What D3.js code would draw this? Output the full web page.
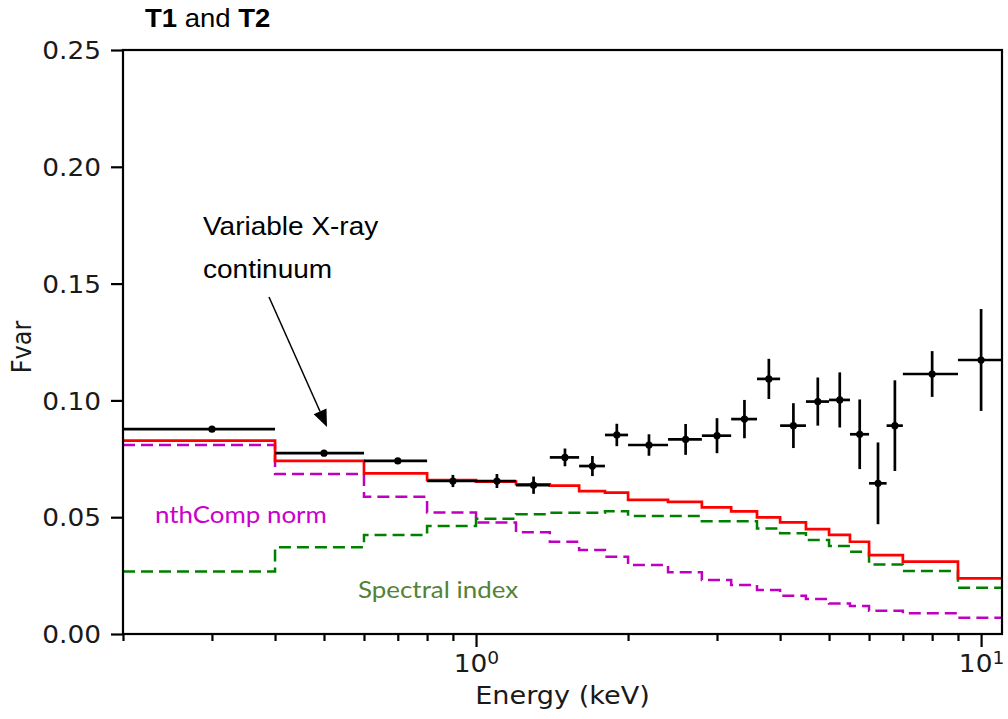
<!DOCTYPE html>
<html>
<head>
<meta charset="utf-8">
<script src="https://cdn.jsdelivr.net/npm/d3@7"></script>
<style>
  html, body { margin: 0; padding: 0; background: #ffffff; }
  svg { display: block; }
</style>
</head>
<body>
<svg id="chart" width="1008" height="719"></svg>
<script>
// Energy bins (keV): lower and upper edges
const binLo = [0.2, 0.4, 0.6, 0.8, 1.0, 1.2, 1.4, 1.6, 1.8, 2.0, 2.4, 2.8, 3.2, 3.6, 4.0, 4.5, 5.0, 5.5, 6.0, 6.5, 7.0, 9.0];
const binHi = [0.4, 0.6, 0.8, 1.0, 1.2, 1.4, 1.6, 1.8, 2.0, 2.4, 2.8, 3.2, 3.6, 4.0, 4.5, 5.0, 5.5, 6.0, 6.5, 7.0, 9.0, 11.0];

// Observed fractional variability and 1-sigma errors
const fvarObs = [0.0877, 0.0774, 0.0741, 0.0655, 0.0655, 0.0637, 0.0756, 0.0719, 0.0852, 0.0809, 0.0833,
                 0.0849, 0.0920, 0.1092, 0.0892, 0.0995, 0.1002, 0.0855, 0.0645, 0.0892, 0.1113, 0.1173];
const fvarErr = [0.0008, 0.0008, 0.0010, 0.0026, 0.0030, 0.0037, 0.0038, 0.0043, 0.0048, 0.0046, 0.0066,
                 0.0075, 0.0082, 0.0086, 0.0096, 0.0103, 0.0118, 0.0149, 0.0175, 0.0194, 0.0098, 0.0218];

// Model Fvar: total variable continuum, spectral index only, nthComp normalisation only
const modelTotal = [0.0828, 0.0741, 0.0688, 0.0659, 0.0652, 0.0641, 0.0635, 0.0612, 0.0605, 0.0574, 0.0566,
                    0.0542, 0.0525, 0.0499, 0.0478, 0.0449, 0.0424, 0.0395, 0.0338, 0.0338, 0.0310, 0.0238];
const modelIndex = [0.0268, 0.0371, 0.0424, 0.0462, 0.0493, 0.0513, 0.0519, 0.0519, 0.0526, 0.0505, 0.0505,
                    0.0483, 0.0483, 0.0452, 0.0431, 0.0402, 0.0377, 0.0352, 0.0298, 0.0298, 0.0270, 0.0198];
const modelNorm  = [0.0809, 0.0685, 0.0588, 0.0520, 0.0477, 0.0436, 0.0395, 0.0360, 0.0331, 0.0295, 0.0264,
                    0.0231, 0.0210, 0.0188, 0.0164, 0.0150, 0.0131, 0.0120, 0.0100, 0.0100, 0.0089, 0.0070];

// Axis ticks
const xMajorTicks = [1, 10];
const xMinorTicks = [0.2, 0.3, 0.4, 0.5, 0.6, 0.7, 0.8, 0.9, 2, 3, 4, 5, 6, 7, 8, 9];
const yTicks = [0.00, 0.05, 0.10, 0.15, 0.20, 0.25];

const xDomain = [0.2, 11];
const yDomain = [0, 0.25];

const M = { left: 123, right: 1002, top: 50, bottom: 634 };
const SX = 1.1; // horizontal stretch applied to axis text

const svg = d3.select("#chart");
const x = d3.scaleLog().domain(xDomain).range([M.left, M.right]);
const y = d3.scaleLinear().domain(yDomain).range([M.bottom, M.top]);

const tickFont = "'DejaVu Sans', sans-serif";

// ---- step curves ----
function stepPoints(vals) {
  const pts = binLo.map((lo, i) => [lo, vals[i]]);
  pts.push([binHi[binHi.length - 1], vals[vals.length - 1]]);
  return pts;
}
const stepLine = d3.line().x(d => x(d[0])).y(d => y(d[1])).curve(d3.curveStepAfter);

svg.append("path").datum(stepPoints(modelIndex))
  .attr("d", stepLine).attr("fill", "none")
  .attr("stroke", "#008000").attr("stroke-width", 2.5).attr("stroke-dasharray", "12,6");
svg.append("path").datum(stepPoints(modelNorm))
  .attr("d", stepLine).attr("fill", "none")
  .attr("stroke", "#c000c0").attr("stroke-width", 2.5).attr("stroke-dasharray", "12,6");
svg.append("path").datum(stepPoints(modelTotal))
  .attr("d", stepLine).attr("fill", "none")
  .attr("stroke", "#ff0000").attr("stroke-width", 2.7);

// ---- observed points with error bars ----
const obs = fvarObs.map((v, i) => ({ lo: binLo[i], hi: binHi[i], e: (binLo[i] + binHi[i]) / 2, v, err: fvarErr[i] }));
const pg = svg.append("g").attr("stroke", "#000").attr("stroke-width", 2.7);
pg.selectAll("line.h").data(obs).join("line").attr("class", "h")
  .attr("x1", d => x(d.lo)).attr("x2", d => x(d.hi))
  .attr("y1", d => y(d.v)).attr("y2", d => y(d.v));
pg.selectAll("line.v").data(obs).join("line").attr("class", "v")
  .attr("x1", d => x(d.e)).attr("x2", d => x(d.e))
  .attr("y1", d => y(d.v - d.err)).attr("y2", d => y(d.v + d.err));
svg.append("g").selectAll("circle").data(obs).join("circle")
  .attr("cx", d => x(d.e)).attr("cy", d => y(d.v)).attr("r", 3.6).attr("fill", "#000");

// ---- axes frame ----
svg.append("rect")
  .attr("x", M.left).attr("y", M.top)
  .attr("width", M.right - M.left).attr("height", M.bottom - M.top)
  .attr("fill", "none").attr("stroke", "#000").attr("stroke-width", 2.2);

// y axis
const yAxis = d3.axisLeft(y).tickValues(yTicks).tickSize(12).tickPadding(0).tickFormat(d3.format(".2f"));
const gy = svg.append("g").attr("transform", `translate(${M.left},0)`).call(yAxis);
gy.select(".domain").remove();
gy.selectAll(".tick line").attr("stroke-width", 2.2);
gy.selectAll(".tick text").remove();
gy.selectAll(".tick").append("text")
  .attr("transform", `translate(-22,0) scale(${SX},1)`)
  .attr("text-anchor", "end").attr("dy", "0.36em")
  .attr("fill", "#1a1a1a")
  .style("font-family", tickFont).style("font-size", "24px")
  .text(d => d3.format(".2f")(d));

// x axis: minor ticks
const gxMinor = svg.append("g").attr("transform", `translate(0,${M.bottom})`)
  .call(d3.axisBottom(x).tickValues(xMinorTicks).tickSize(7).tickFormat(""));
gxMinor.select(".domain").remove();
gxMinor.selectAll(".tick line").attr("stroke-width", 2.2);

// x axis: major ticks with power-of-ten labels
const gx = svg.append("g").attr("transform", `translate(0,${M.bottom})`)
  .call(d3.axisBottom(x).tickValues(xMajorTicks).tickSize(13).tickFormat(""));
gx.select(".domain").remove();
gx.selectAll(".tick line").attr("stroke-width", 2.2);
gx.selectAll(".tick text").remove();
const lbl = gx.selectAll(".tick").append("text")
  .attr("transform", `translate(0,38) scale(${SX},1)`)
  .attr("text-anchor", "middle").attr("fill", "#1a1a1a")
  .style("font-family", tickFont).style("font-size", "24px");
lbl.append("tspan").text("10");
lbl.append("tspan").attr("dy", "-0.45em").style("font-size", "17px").text(d => Math.round(Math.log10(d)));

// axis titles
svg.append("text")
  .attr("transform", `translate(${(M.left + M.right) / 2},704) scale(1.13,1)`)
  .attr("text-anchor", "middle").attr("fill", "#1a1a1a")
  .style("font-family", tickFont).style("font-size", "24px")
  .text("Energy (keV)");
svg.append("text")
  .attr("transform", `translate(31,347) scale(${SX},1) rotate(-90)`)
  .attr("text-anchor", "middle").attr("fill", "#1a1a1a")
  .style("font-family", tickFont).style("font-size", "24px")
  .text("Fvar");

// title
const title = svg.append("text")
  .attr("transform", `translate(145,27) scale(1.1,1)`)
  .attr("fill", "#000")
  .style("font-family", "'Liberation Sans', Arial, sans-serif").style("font-size", "25px");
title.append("tspan").style("font-weight", "bold").text("T1");
title.append("tspan").text(" and ");
title.append("tspan").style("font-weight", "bold").text("T2");

// annotation
const ann = svg.append("g")
  .style("font-family", "'Liberation Sans', Arial, sans-serif").style("font-size", "25px").attr("fill", "#000");
ann.append("text").attr("transform", `translate(203,235) scale(1.12,1)`).text("Variable X-ray");
ann.append("text").attr("transform", `translate(203,278) scale(1.12,1)`).text("continuum");

// arrow
const a0 = [269, 297], a1 = [327, 427];
const ang = Math.atan2(a1[1] - a0[1], a1[0] - a0[0]);
const headLen = 17, headHalf = 7;
const base = [a1[0] - headLen * Math.cos(ang), a1[1] - headLen * Math.sin(ang)];
svg.append("line")
  .attr("x1", a0[0]).attr("y1", a0[1]).attr("x2", base[0]).attr("y2", base[1])
  .attr("stroke", "#000").attr("stroke-width", 1.5);
svg.append("polygon")
  .attr("points", [
    a1,
    [base[0] + headHalf * Math.sin(ang), base[1] - headHalf * Math.cos(ang)],
    [base[0] - headHalf * Math.sin(ang), base[1] + headHalf * Math.cos(ang)]
  ].map(p => p.join(",")).join(" "))
  .attr("fill", "#000");

// component labels
svg.append("text")
  .attr("transform", `translate(155,523) scale(1.08,1)`)
  .attr("fill", "#cc00cc")
  .style("font-family", "Lato, 'Open Sans', sans-serif").style("font-size", "24px")
  .text("nthComp norm");
svg.append("text")
  .attr("transform", `translate(358,598) scale(1.08,1)`)
  .attr("fill", "#548235")
  .style("font-family", "Lato, 'Open Sans', sans-serif").style("font-size", "24px")
  .text("Spectral index");
</script>
</body>
</html>
